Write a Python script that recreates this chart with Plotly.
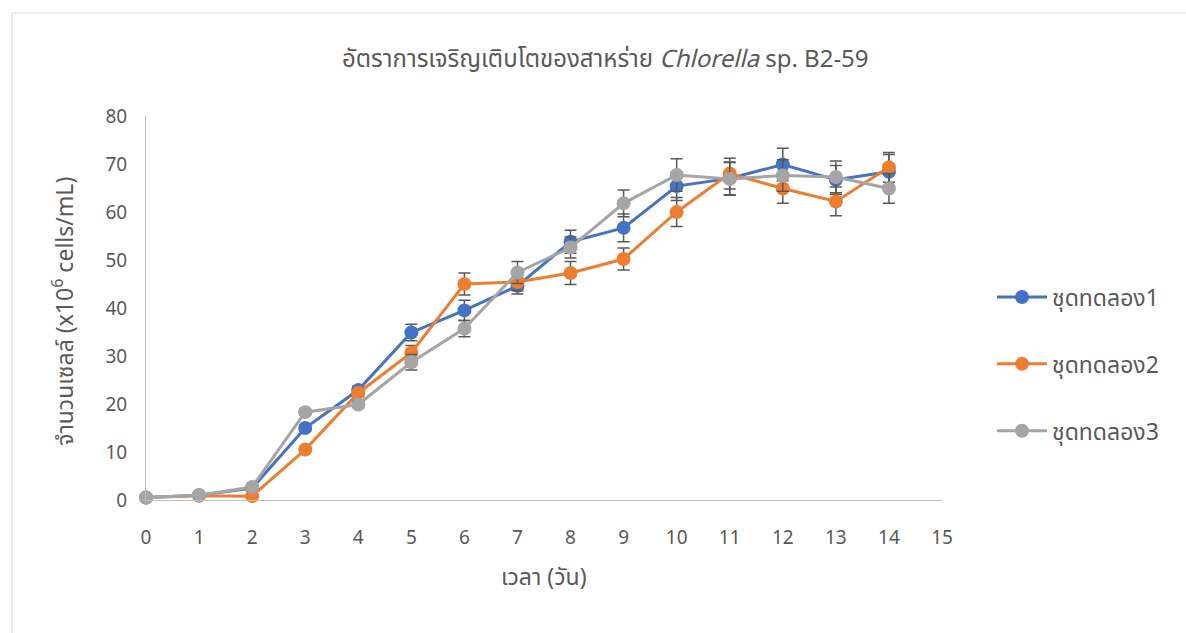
import plotly.graph_objects as go

# Culture time (days)
days = [0, 1, 2, 3, 4, 5, 6, 7, 8, 9, 10, 11, 12, 13, 14]

# Cell density (x10^6 cells/mL) for each replicate set
set1 = [0.5, 1.0, 2.5, 15.0, 22.9, 34.9, 39.5, 44.6, 53.8, 56.7, 65.4, 67.0, 69.9, 66.7, 68.4]
set2 = [0.5, 0.9, 0.8, 10.5, 22.3, 30.7, 45.0, 45.4, 47.3, 50.2, 60.0, 68.0, 64.9, 62.2, 69.3]
set3 = [0.5, 1.0, 2.7, 18.3, 19.9, 28.7, 35.7, 47.4, 52.6, 61.8, 67.7, 66.9, 67.6, 67.3, 64.9]

# Standard deviations
sd1 = [0.1, 0.2, 0.3, 0.6, 0.8, 1.7, 2.1, 1.7, 2.4, 2.9, 3.0, 3.4, 3.4, 3.0, 3.6]
sd2 = [0.1, 0.2, 0.3, 0.5, 0.8, 1.5, 2.3, 1.8, 2.4, 2.3, 3.0, 3.2, 3.1, 3.0, 3.1]
sd3 = [0.1, 0.2, 0.3, 0.6, 0.7, 1.6, 1.7, 2.3, 2.2, 2.8, 3.4, 3.4, 3.3, 3.3, 3.1]

names = ["ชุดทดลอง1", "ชุดทดลอง2", "ชุดทดลอง3"]
colors = ["#4472C4", "#ED7D31", "#A5A5A5"]

x_ticks = list(range(0, 16))
y_ticks = list(range(0, 81, 10))

FONT = "Noto Sans Thai, Noto Sans, DejaVu Sans, sans-serif"
TEXT = "#595959"

fig = go.Figure()
for name, ys, sds, col in zip(names, [set1, set2, set3], [sd1, sd2, sd3], colors):
    fig.add_trace(go.Scatter(
        x=days, y=ys, name=name, legendgroup=name,
        mode="lines+markers",
        line=dict(color=col, width=3),
        marker=dict(color=col, size=14),
        error_y=dict(type="data", array=sds, visible=True,
                     color="#595959", thickness=1.5, width=6),
        cliponaxis=False,
    ))

fig.update_layout(
    width=1186, height=633,
    paper_bgcolor="white", plot_bgcolor="white",
    margin=dict(l=146, r=244, t=116, b=133),
    font=dict(family=FONT, color=TEXT, size=19),
    showlegend=True,
    legend=dict(
        x=(992 - 146) / 796, xanchor="left",
        y=(500 - 364) / 384, yanchor="middle",
        font=dict(size=23, color=TEXT, family=FONT),
        tracegroupgap=34, itemwidth=50,
        bgcolor="rgba(0,0,0,0)",
    ),
    xaxis=dict(
        range=[0, 15], tickmode="array", tickvals=x_ticks,
        showgrid=False, zeroline=False,
        showline=True, linecolor="#BFBFBF", linewidth=1,
        ticks="", ticklabelstandoff=20,
        tickfont=dict(size=19, color=TEXT),
    ),
    yaxis=dict(
        range=[0, 80], tickmode="array", tickvals=y_ticks,
        showgrid=False, zeroline=False,
        showline=True, linecolor="#BFBFBF", linewidth=1,
        ticks="", ticklabelstandoff=14,
        tickfont=dict(size=19, color=TEXT),
    ),
    shapes=[dict(type="rect", xref="paper", yref="paper",
                 x0=-134 / 796, x1=1.4, y0=-0.5, y1=1 + 103 / 384,
                 line=dict(color="#D9D9D9", width=1), layer="below")],
    annotations=[
        dict(text="อัตราการเจริญเติบโตของสาหร่าย <i>Chlorella</i> sp. B2-59",
             xref="paper", yref="paper", x=(605 - 146) / 796, y=1 + 56 / 384,
             xanchor="center", yanchor="middle", showarrow=False,
             font=dict(size=24, color=TEXT, family=FONT)),
        dict(text="จำนวนเซลล์ (x10<sup>6</sup> cells/mL)",
             xref="paper", yref="paper", x=-(146 - 65) / 796, y=0.49,
             xanchor="center", yanchor="middle", showarrow=False, textangle=-90,
             font=dict(size=23, color=TEXT, family=FONT)),
        dict(text="เวลา (วัน)",
             xref="paper", yref="paper", x=(544 - 146) / 796, y=-(578 - 500) / 384,
             xanchor="center", yanchor="middle", showarrow=False,
             font=dict(size=23, color=TEXT, family=FONT)),
    ],
)

fig.write_html("out.html")
